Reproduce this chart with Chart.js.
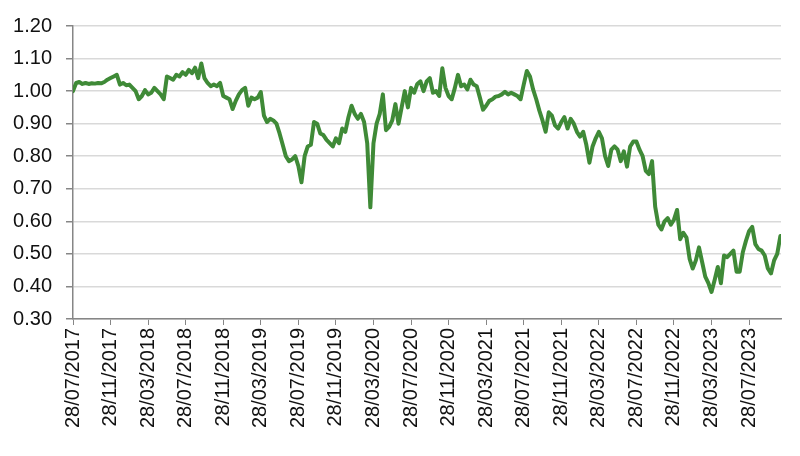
<!DOCTYPE html>
<html>
<head>
<meta charset="utf-8">
<script src="https://cdn.jsdelivr.net/npm/chart.js@4.4.0/dist/chart.umd.min.js"></script>
<style>
  html, body { margin: 0; padding: 0; background: #fff; }
  #wrap { width: 800px; height: 456px; }
</style>
</head>
<body>
<div id="wrap"><canvas id="chart" width="800" height="456"></canvas></div>
<script>
// tick labels on the x axis, one every 4 months
const tickLabels = ['28/07/2017','28/11/2017','28/03/2018','28/07/2018','28/11/2018','28/03/2019','28/07/2019',
  '28/11/2019','28/03/2020','28/07/2020','28/11/2020','28/03/2021','28/07/2021','28/11/2021','28/03/2022',
  '28/07/2022','28/11/2022','28/03/2023','28/07/2023'];

// roughly three readings per month, starting 28/07/2017
const pointsPerMonth = 3;
const series = [
  1.00, 1.025, 1.028, 1.022, 1.025, 1.022, 1.024, 1.023, 1.025, 1.024,
  1.028, 1.035, 1.04, 1.045, 1.05, 1.02, 1.025, 1.018, 1.02, 1.01,
  1.00, 0.975, 0.985, 1.003, 0.99, 0.995, 1.01, 1.0, 0.99, 0.975,
  1.045, 1.04, 1.035, 1.05, 1.045, 1.058, 1.05, 1.065, 1.055, 1.072,
  1.04, 1.085, 1.04, 1.025, 1.015, 1.02, 1.015, 1.025, 0.985, 0.98,
  0.975, 0.945, 0.97, 0.99, 1.003, 1.01, 0.955, 0.98, 0.975, 0.98,
  0.997, 0.925, 0.905, 0.915, 0.91, 0.90, 0.87, 0.835, 0.80, 0.785,
  0.79, 0.80, 0.77, 0.72, 0.80, 0.83, 0.835, 0.905, 0.90, 0.87,
  0.865, 0.85, 0.84, 0.83, 0.855, 0.84, 0.885, 0.875, 0.92, 0.955,
  0.93, 0.915, 0.93, 0.905, 0.84, 0.643, 0.84, 0.90, 0.93, 0.99,
  0.88, 0.89, 0.91, 0.96, 0.90, 0.95, 1.00, 0.95, 1.01, 0.995,
  1.022, 1.03, 1.0, 1.03, 1.04, 0.995, 1.0, 0.985, 1.07, 1.01,
  0.985, 0.975, 1.01, 1.05, 1.015, 1.02, 1.005, 1.035, 1.02, 1.015,
  0.98, 0.943, 0.955, 0.97, 0.975, 0.983, 0.985, 0.99, 0.998, 0.99,
  0.995, 0.99, 0.985, 0.975, 1.02, 1.062, 1.045, 1.005, 0.975, 0.94,
  0.91, 0.875, 0.935, 0.925, 0.895, 0.885, 0.905, 0.92, 0.885, 0.915,
  0.90, 0.875, 0.86, 0.875, 0.835, 0.78, 0.83, 0.855, 0.875, 0.855,
  0.80, 0.77, 0.82, 0.83, 0.82, 0.785, 0.815, 0.768, 0.83, 0.845,
  0.845, 0.82, 0.80, 0.755, 0.745, 0.785, 0.645, 0.59, 0.575, 0.60,
  0.61, 0.59, 0.605, 0.635, 0.545, 0.565, 0.55, 0.485, 0.455, 0.48,
  0.52, 0.475, 0.43, 0.41, 0.383, 0.42, 0.46, 0.41, 0.495, 0.49,
  0.50, 0.51, 0.445, 0.445, 0.505, 0.54, 0.57, 0.583, 0.53, 0.515,
  0.51, 0.495, 0.455, 0.44, 0.48, 0.50, 0.555
];

const yMin = 0.30, yMax = 1.20, yStep = 0.10;
const xMaxMonths = 75.4;

const points = series.map((v, i) => ({ x: i / pointsPerMonth, y: v }));

const axisGrey = '#868686';
const textColor = '#111';
const font = { family: "'Liberation Sans', Arial, sans-serif", size: 20 };

new Chart(document.getElementById('chart'), {
  type: 'line',
  data: {
    datasets: [{
      data: points,
      borderColor: '#3f8a37',
      borderWidth: 4,
      borderJoinStyle: 'round',
      borderCapStyle: 'round',
      pointRadius: 0,
      tension: 0,
      fill: false
    }]
  },
  options: {
    responsive: false,
    animation: false,
    layout: { padding: { top: 15, right: 19, left: 0, bottom: 0 } },
    plugins: { legend: { display: false }, tooltip: { enabled: false } },
    scales: {
      x: {
        type: 'linear',
        min: 0,
        max: xMaxMonths,
        afterBuildTicks: function(scale){
          scale.ticks = tickLabels.map((_, k) => ({ value: k * 4 }));
        },
        afterFit: function(scale){ scale.height = 137; },
        grid: { drawOnChartArea: false, drawTicks: true, tickLength: 6, color: axisGrey, lineWidth: 1 },
        border: { display: true, color: axisGrey, width: 1.5 },
        ticks: {
          autoSkip: false,
          maxRotation: 90,
          minRotation: 90,
          padding: 3,
          color: textColor,
          font: font,
          callback: function(v){ return tickLabels[Math.round(v / 4)]; }
        }
      },
      y: {
        min: yMin,
        max: yMax,
        afterFit: function(scale){ scale.width = 73; },
        grid: { color: '#d9d9d9', lineWidth: 1.5, drawTicks: true, tickLength: 7, tickColor: axisGrey },
        border: { display: true, color: axisGrey, width: 1.5 },
        ticks: {
          stepSize: yStep,
          padding: 14,
          color: textColor,
          font: font,
          callback: function(v){ return Number(v).toFixed(2); }
        }
      }
    }
  }
});
</script>
</body>
</html>
